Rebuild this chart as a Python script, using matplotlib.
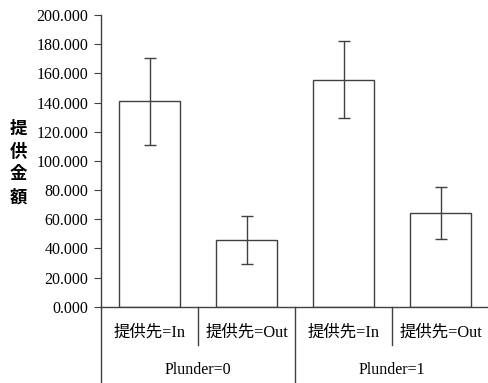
import matplotlib
matplotlib.use("Agg")
import matplotlib.pyplot as plt
import numpy as np

# data
categories = ["提供先=In", "提供先=Out", "提供先=In", "提供先=Out"]
groups = ["Plunder=0", "Plunder=1"]
means = [140.7, 45.8, 155.6, 64.2]
errors = [30.0, 16.6, 26.4, 17.6]
yticks = [0, 20, 40, 60, 80, 100, 120, 140, 160, 180, 200]

plt.rcParams['font.family'] = ['Liberation Serif', 'Noto Sans CJK JP']
line_col = "#404040"

fig = plt.figure(figsize=(4.88, 3.83), dpi=100)
W, H = 488.0, 383.0
x0, y0, y200 = 101.0, 306.7, 15.0
ax = fig.add_axes([x0 / W, (H - y0) / H, 388.0 / W, (y0 - y200) / H])

x = np.arange(len(means))
ax.bar(x, means, width=0.63, color="white", edgecolor=line_col, linewidth=1.0,
       yerr=errors, error_kw=dict(ecolor=line_col, elinewidth=1.0, capsize=4, capthick=1.0))

ax.set_xlim(-0.5, 3.5)
ax.set_ylim(0, 200)
ax.set_yticks(yticks)
ax.set_yticklabels(["%.3f" % v for v in yticks], fontsize=11.5)
ax.tick_params(axis="y", direction="out", length=5, color=line_col, pad=4)
ax.set_xticks([])

for s in ["top", "right"]:
    ax.spines[s].set_visible(False)
for s in ["left", "bottom"]:
    ax.spines[s].set_color(line_col)
    ax.spines[s].set_linewidth(1.0)

# extend left spine to the bottom of the figure
bottom_ax = -(H - y0) / (y0 - y200)
ax.plot([-0.5, -0.5], [0, bottom_ax], transform=ax.get_xaxis_transform(),
        color=line_col, lw=1.0, clip_on=False)

# category separators and labels
sep_short = -(345 - y0) / (y0 - y200)
for i in range(len(categories)):
    ax.text(i, -(333 - y0) / (y0 - y200), categories[i], transform=ax.get_xaxis_transform(),
            ha="center", va="center", fontsize=11.8)
for b in [0.5, 2.5]:
    ax.plot([b, b], [0, sep_short], transform=ax.get_xaxis_transform(),
            color=line_col, lw=1.0, clip_on=False)
ax.plot([1.5, 1.5], [0, bottom_ax], transform=ax.get_xaxis_transform(),
        color=line_col, lw=1.0, clip_on=False)

# group labels
for g, name in enumerate(groups):
    ax.text(0.5 + 2 * g, -(370 - y0) / (y0 - y200), name, transform=ax.get_xaxis_transform(),
            ha="center", va="center", fontsize=11.5)

# vertical y label
fig.text(18 / W, 1 - 163 / H, "提\n供\n金\n額", ha="center", va="center",
         fontsize=12.5, fontweight="bold", linespacing=1.35, family=['Noto Sans CJK JP'])

fig.savefig("out.png", dpi=100)
